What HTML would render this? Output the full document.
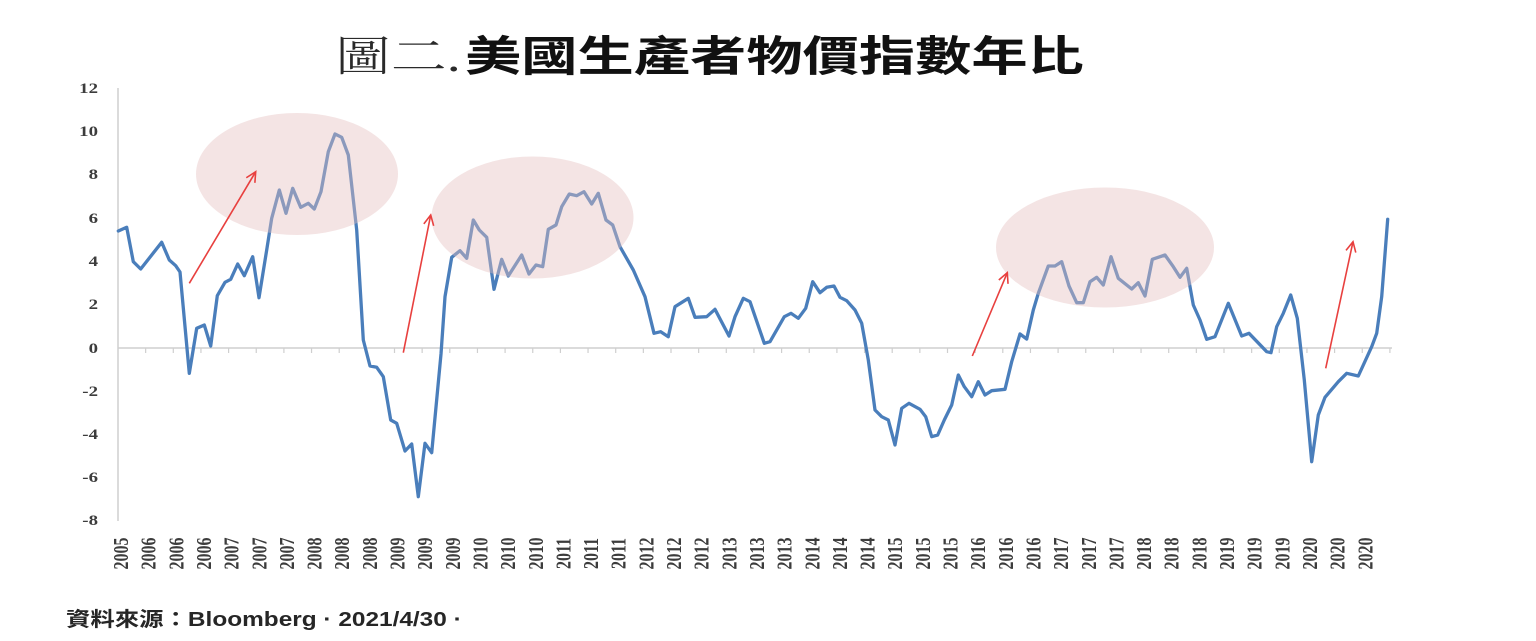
<!DOCTYPE html>
<html>
<head>
<meta charset="utf-8">
<style>
html,body{margin:0;padding:0;background:#fff;}
body{width:1536px;height:641px;overflow:hidden;}
svg{display:block;}
</style>
</head>
<body>
<svg width="1536" height="641" viewBox="0 0 1536 641" xmlns="http://www.w3.org/2000/svg">
<defs>
<marker id="ah" markerUnits="userSpaceOnUse" markerWidth="14" markerHeight="14" refX="11" refY="6" orient="auto">
<path d="M1,1 L11,6 L1,11" fill="none" stroke="#e8403f" stroke-width="1.6"/>
</marker>
</defs>

<g transform="translate(335,71) scale(1.33,1)">
<text x="0" y="0" font-family="'Noto Serif CJK SC','Liberation Serif',serif" font-weight="300" font-size="42" fill="#2a2a2a">圖二<tspan font-family="'Liberation Serif',serif" font-weight="normal">.</tspan></text>
</g>
<g transform="translate(465,71) scale(1.34,1)">
<text x="0" y="0" font-family="'Liberation Sans','Noto Sans CJK TC',sans-serif" font-weight="bold" font-size="42" fill="#111">美國生產者物價指數年比</text>
</g>

<line x1="118" y1="88" x2="118" y2="521" stroke="#cfcfcf" stroke-width="1.5"/>
<line x1="118" y1="348" x2="1392" y2="348" stroke="#cfcfcf" stroke-width="1.5"/>
<path stroke="#cfcfcf" stroke-width="1.2" fill="none" d="M145.65,348v5M173.3,348v5M200.95,348v5M228.6,348v5M256.25,348v5M283.9,348v5M311.55,348v5M339.2,348v5M366.85,348v5M394.5,348v5M422.15,348v5M449.8,348v5M477.45,348v5M505.1,348v5M532.75,348v5M560.4,348v5M588.05,348v5M615.7,348v5M643.35,348v5M671,348v5M698.65,348v5M726.3,348v5M753.95,348v5M781.6,348v5M809.25,348v5M836.9,348v5M864.55,348v5M892.2,348v5M919.85,348v5M947.5,348v5M975.15,348v5M1002.8,348v5M1030.45,348v5M1058.1,348v5M1085.75,348v5M1113.4,348v5M1141.05,348v5M1168.7,348v5M1196.35,348v5M1224,348v5M1251.65,348v5M1279.3,348v5M1306.95,348v5M1334.6,348v5M1362.25,348v5M1389.9,348v5"/>

<g font-family="'Liberation Serif',serif" font-weight="bold" font-size="14.5" fill="#3c3c3c" text-anchor="end">
<text transform="translate(98,93) scale(1.3,1)">12</text>
<text transform="translate(98,136) scale(1.3,1)">10</text>
<text transform="translate(98,179) scale(1.3,1)">8</text>
<text transform="translate(98,223) scale(1.3,1)">6</text>
<text transform="translate(98,266) scale(1.3,1)">4</text>
<text transform="translate(98,309) scale(1.3,1)">2</text>
<text transform="translate(98,353) scale(1.3,1)">0</text>
<text transform="translate(98,396) scale(1.3,1)">-2</text>
<text transform="translate(98,439) scale(1.3,1)">-4</text>
<text transform="translate(98,482) scale(1.3,1)">-6</text>
<text transform="translate(98,525) scale(1.3,1)">-8</text>
</g>

<g font-family="'Liberation Serif',serif" font-weight="bold" font-size="16" fill="#3c3c3c" text-anchor="middle">
<text transform="translate(128,553.5) scale(1.3,1) rotate(-90)">2005</text>
<text transform="translate(155.65,553.5) scale(1.3,1) rotate(-90)">2006</text>
<text transform="translate(183.3,553.5) scale(1.3,1) rotate(-90)">2006</text>
<text transform="translate(210.95,553.5) scale(1.3,1) rotate(-90)">2006</text>
<text transform="translate(238.6,553.5) scale(1.3,1) rotate(-90)">2007</text>
<text transform="translate(266.25,553.5) scale(1.3,1) rotate(-90)">2007</text>
<text transform="translate(293.9,553.5) scale(1.3,1) rotate(-90)">2007</text>
<text transform="translate(321.55,553.5) scale(1.3,1) rotate(-90)">2008</text>
<text transform="translate(349.2,553.5) scale(1.3,1) rotate(-90)">2008</text>
<text transform="translate(376.85,553.5) scale(1.3,1) rotate(-90)">2008</text>
<text transform="translate(404.5,553.5) scale(1.3,1) rotate(-90)">2009</text>
<text transform="translate(432.15,553.5) scale(1.3,1) rotate(-90)">2009</text>
<text transform="translate(459.8,553.5) scale(1.3,1) rotate(-90)">2009</text>
<text transform="translate(487.45,553.5) scale(1.3,1) rotate(-90)">2010</text>
<text transform="translate(515.1,553.5) scale(1.3,1) rotate(-90)">2010</text>
<text transform="translate(542.75,553.5) scale(1.3,1) rotate(-90)">2010</text>
<text transform="translate(570.4,553.5) scale(1.3,1) rotate(-90)">2011</text>
<text transform="translate(598.05,553.5) scale(1.3,1) rotate(-90)">2011</text>
<text transform="translate(625.7,553.5) scale(1.3,1) rotate(-90)">2011</text>
<text transform="translate(653.35,553.5) scale(1.3,1) rotate(-90)">2012</text>
<text transform="translate(681,553.5) scale(1.3,1) rotate(-90)">2012</text>
<text transform="translate(708.65,553.5) scale(1.3,1) rotate(-90)">2012</text>
<text transform="translate(736.3,553.5) scale(1.3,1) rotate(-90)">2013</text>
<text transform="translate(763.95,553.5) scale(1.3,1) rotate(-90)">2013</text>
<text transform="translate(791.6,553.5) scale(1.3,1) rotate(-90)">2013</text>
<text transform="translate(819.25,553.5) scale(1.3,1) rotate(-90)">2014</text>
<text transform="translate(846.9,553.5) scale(1.3,1) rotate(-90)">2014</text>
<text transform="translate(874.55,553.5) scale(1.3,1) rotate(-90)">2014</text>
<text transform="translate(902.2,553.5) scale(1.3,1) rotate(-90)">2015</text>
<text transform="translate(929.85,553.5) scale(1.3,1) rotate(-90)">2015</text>
<text transform="translate(957.5,553.5) scale(1.3,1) rotate(-90)">2015</text>
<text transform="translate(985.15,553.5) scale(1.3,1) rotate(-90)">2016</text>
<text transform="translate(1012.8,553.5) scale(1.3,1) rotate(-90)">2016</text>
<text transform="translate(1040.45,553.5) scale(1.3,1) rotate(-90)">2016</text>
<text transform="translate(1068.1,553.5) scale(1.3,1) rotate(-90)">2017</text>
<text transform="translate(1095.75,553.5) scale(1.3,1) rotate(-90)">2017</text>
<text transform="translate(1123.4,553.5) scale(1.3,1) rotate(-90)">2017</text>
<text transform="translate(1151.05,553.5) scale(1.3,1) rotate(-90)">2018</text>
<text transform="translate(1178.7,553.5) scale(1.3,1) rotate(-90)">2018</text>
<text transform="translate(1206.35,553.5) scale(1.3,1) rotate(-90)">2018</text>
<text transform="translate(1234,553.5) scale(1.3,1) rotate(-90)">2019</text>
<text transform="translate(1261.65,553.5) scale(1.3,1) rotate(-90)">2019</text>
<text transform="translate(1289.3,553.5) scale(1.3,1) rotate(-90)">2019</text>
<text transform="translate(1316.95,553.5) scale(1.3,1) rotate(-90)">2020</text>
<text transform="translate(1344.6,553.5) scale(1.3,1) rotate(-90)">2020</text>
<text transform="translate(1372.25,553.5) scale(1.3,1) rotate(-90)">2020</text>
</g>

<polyline fill="none" stroke="#4a7ebb" stroke-width="3.3" stroke-linejoin="round" stroke-linecap="round" points="118.3,231 126.7,227.3 133.3,261.7 140.7,269 161.7,242.3 169.3,260 175.7,265.7 180,272 189.3,373.3 196.7,328.3 204.3,325 210.7,346 217.3,295.7 225,282.3 230.7,279.3 237.7,264 244.3,275.7 252.7,256.7 259,297.7 266.7,250 271.7,218.3 279.3,190 286,213.3 292.7,188.3 300.7,207.3 308.3,203.3 314.3,209 321,191.7 328.3,151.7 335,134 341.7,137.3 348.3,155 356.7,230 363.3,340 370,366 376.7,367.3 383.3,376.7 390.7,420 396.7,423.3 405,451 411.7,444 418.3,496.7 425,443.3 431.7,452.7 441,354 445,296.7 451.7,257.3 460,250.7 466.7,258.3 473.3,220 479.3,230 486.7,237.3 494,289.3 501.7,259.3 508.3,276 521.7,255 529,274 536,265 542.7,266.7 548.3,229.3 556,225 561.7,206.7 569.3,194 576.7,195.7 584,191.7 591.7,204 598.3,193.3 606,220 612.7,225 620,246.7 633.3,270 645,296.7 654,333.3 660.7,331.7 668.3,336.7 675,306.7 688.3,298.3 695,317.3 706.7,316.7 715,309.3 729,336 735,316.7 743.3,298.3 750,301.7 764.3,343.3 770,341.7 784.3,316.7 791,313.3 798.3,318.3 805.7,308.3 812.7,281.7 820,292.7 826.7,287.3 834,286 840,297.3 846.7,300.7 855,310 861.7,323.3 868.3,360 875,410 881.7,416.7 888.3,420 895,445 901.7,408.3 909,403.3 920,409.3 925.7,416.7 931.7,436.7 937.7,435 944.3,420 951.7,405 958.3,375 964.3,386.7 971.7,396.7 978.3,381.7 985,395 991.7,390.7 1005,389.3 1011.7,361.7 1020,334 1026.7,339 1033.3,310 1038.3,293.3 1048.3,266 1055,266 1061.7,261.7 1069,286 1076.7,302.7 1083.3,302.7 1090,281.7 1096.7,277.3 1103.3,285 1111,256.7 1118.3,278.3 1131.7,289 1138.3,282.7 1145,296 1152.3,259.3 1165,255 1173.3,266.7 1180,277.3 1186.7,268.3 1193.3,305 1200,320 1206.7,339.3 1215,336.7 1228.3,303.3 1241.7,336 1249,333.3 1266.7,351.7 1271,352.7 1276.7,326.7 1283.3,313.3 1290.7,295 1297.3,318.3 1304.3,380 1311.7,461.7 1318.3,415 1325,397.3 1338.3,381.7 1346.7,373.3 1358.3,376 1371.7,346.7 1376.7,333.3 1381.7,296.7 1387.7,219.3"/>

<g fill="rgb(228,190,190)" fill-opacity="0.42">
<ellipse cx="297" cy="174" rx="101" ry="61"/>
<ellipse cx="532.5" cy="217.5" rx="101" ry="61"/>
<ellipse cx="1105" cy="247.5" rx="109" ry="60"/>
</g>

<g stroke="#e8403f" stroke-width="1.6" fill="none">
<line x1="189.3" y1="283.3" x2="255.7" y2="171.7" marker-end="url(#ah)"/>
<line x1="403.3" y1="352.7" x2="430.7" y2="215" marker-end="url(#ah)"/>
<line x1="972.3" y1="356" x2="1007.3" y2="272.7" marker-end="url(#ah)"/>
<line x1="1325.7" y1="368.3" x2="1353" y2="241.7" marker-end="url(#ah)"/>
</g>

<g transform="translate(66,626) scale(1.22,1)">
<text x="0" y="0" font-family="'Liberation Sans','Noto Sans CJK TC',sans-serif" font-weight="bold" font-size="20" fill="#262626">資料來源：Bloomberg · 2021/4/30 ·</text>
</g>
</svg>
</body>
</html>
